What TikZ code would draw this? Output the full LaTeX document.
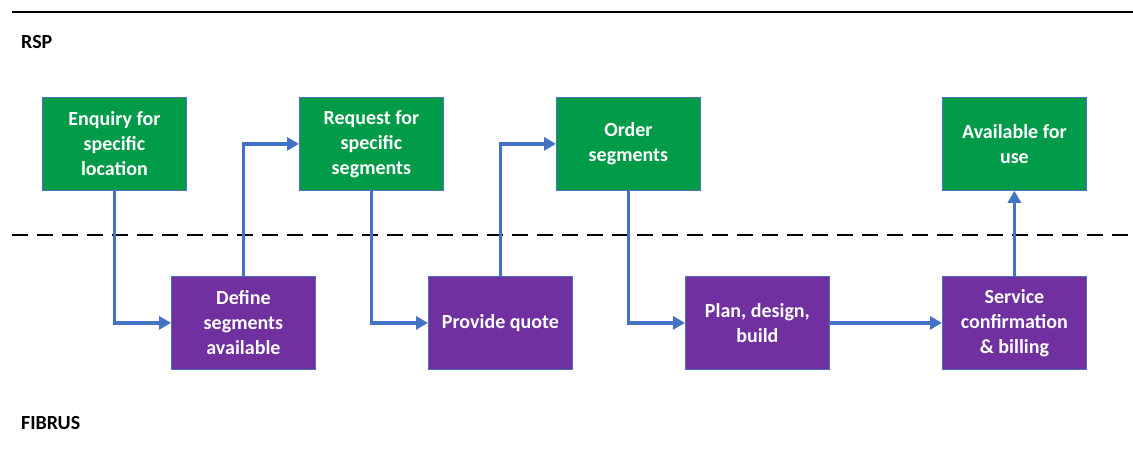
\documentclass[tikz,border=0pt]{standalone}
\usepackage{fontspec}
\setmainfont{Carlito}
\usetikzlibrary{arrows.meta}
\definecolor{boxgreen}{RGB}{0,155,72}
\definecolor{boxpurple}{RGB}{112,48,160}
\definecolor{linkblue}{RGB}{68,114,196}
\definecolor{edgeblue}{RGB}{80,110,190}
\begin{document}
\begin{tikzpicture}[x=1pt,y=-1pt,
  boxbase/.style={draw=edgeblue,line width=0.8pt,minimum width=144pt,minimum height=93pt,
    text=white,font=\bfseries\fontsize{20}{25}\selectfont,align=center,anchor=north west,inner sep=0pt},
  gbox/.style={boxbase,fill=boxgreen},
  pbox/.style={boxbase,fill=boxpurple},
  link/.style={draw=linkblue,line width=3.5pt,-{Triangle[length=12pt,width=13pt]}},
  lanelabel/.style={font=\bfseries\fontsize{20}{24}\selectfont,anchor=west,inner sep=0pt}
]
\useasboundingbox (0,0) rectangle (1133,450);
\draw[line width=2.5pt] (12,12) -- (1133,12);
\draw[line width=2.5pt,dash pattern=on 16pt off 9pt] (12,235) -- (1133,235);
\node[lanelabel] (rsp) at (21,42) {RSP};
\node[lanelabel] (fibrus) at (21,423) {FIBRUS};

\node[gbox] (g1) at (42,97) {Enquiry for\\specific\\location};
\node[gbox] (g2) at (299,97) {Request for\\specific\\segments};
\node[gbox] (g3) at (556,97) {Order\\segments};
\node[gbox] (g4) at (942,97) {Available for\\use};

\node[pbox] (p1) at (171,276) {Define\\segments\\available};
\node[pbox] (p2) at (428,276) {Provide quote};
\node[pbox] (p3) at (685,276) {Plan, design,\\build};
\node[pbox] (p4) at (942,276) {Service\\confirmation\\\& billing};

\draw[link] (g1.south) |- (p1.west);
\draw[link] (p1.north) |- (g2.west);
\draw[link] (g2.south) |- (p2.west);
\draw[link] (p2.north) |- (g3.west);
\draw[link] (g3.south) |- (p3.west);
\draw[link] (p3.east) -- (p4.west);
\draw[link] (p4.north) -- (g4.south);
\end{tikzpicture}
\end{document}
